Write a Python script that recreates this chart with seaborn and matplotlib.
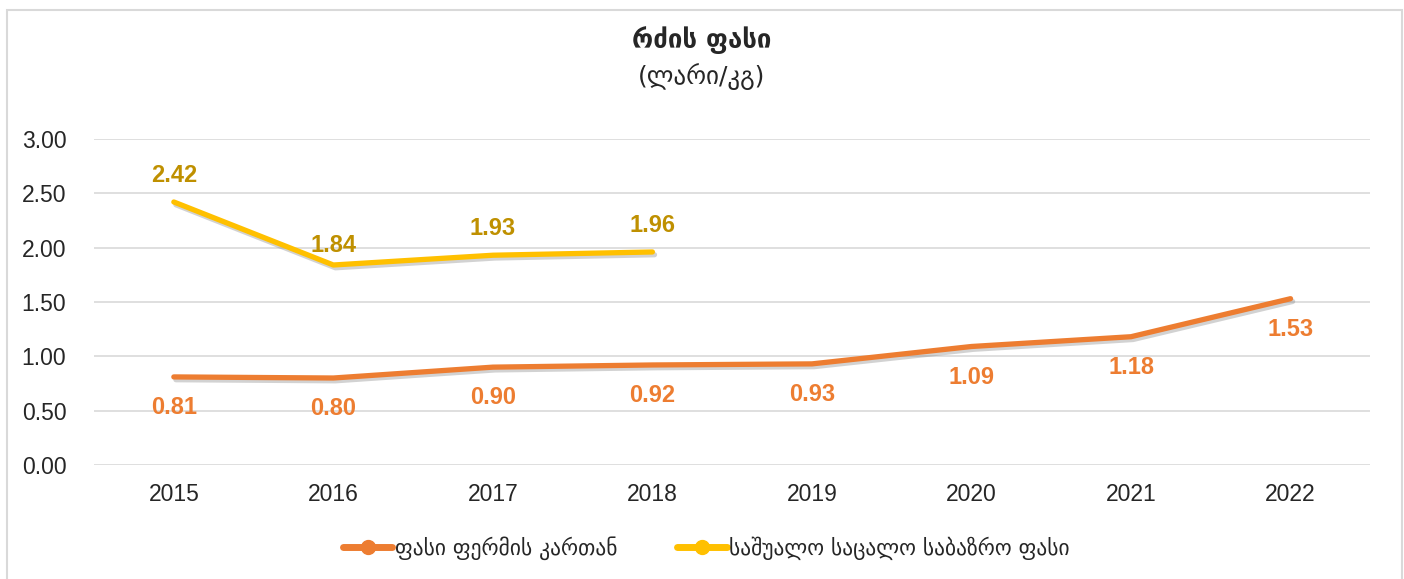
import numpy as np
import pandas as pd
import seaborn as sns
import matplotlib.pyplot as plt
import matplotlib.patheffects as pe
from matplotlib.patches import Rectangle
from matplotlib.lines import Line2D

# --- data ---
years = ['2015', '2016', '2017', '2018', '2019', '2020', '2021', '2022']
farm_price = [0.81, 0.80, 0.90, 0.92, 0.93, 1.09, 1.18, 1.53]
retail_years = ['2015', '2016', '2017', '2018']
retail_price = [2.42, 1.84, 1.93, 1.96]

farm_name = 'ფასი ფერმის კართან'
retail_name = 'საშუალო საცალო საბაზრო ფასი'
title = 'რძის ფასი'
subtitle = '(ლარი/კგ)'

orange = '#ED7D31'
yellow = '#FFC000'
yellow_lbl = '#BF9000'

df = pd.concat([
    pd.DataFrame({'year': years, 'price': farm_price, 'series': farm_name}),
    pd.DataFrame({'year': retail_years, 'price': retail_price, 'series': retail_name}),
])
df['x'] = df['year'].map({y: i for i, y in enumerate(years)})

sns.set_theme(style='white')
plt.rcParams['font.family'] = ['Liberation Sans', 'DejaVu Sans']

fig = plt.figure(figsize=(14.04, 5.79), dpi=100)
ax = fig.add_axes([0.067, 0.197, 0.909, 0.563])

shadow = [pe.SimpleLineShadow(offset=(1.5, -2), shadow_color='gray', alpha=0.35), pe.Normal()]
sns.lineplot(data=df, x='x', y='price', hue='series', palette={farm_name: orange, retail_name: yellow},
             linewidth=3.8, ax=ax, legend=False, path_effects=shadow, solid_capstyle='round')

# data labels
for i, v in enumerate(farm_price):
    ax.annotate(f'{v:.2f}', (i, v), xytext=(0, -22), textcoords='offset points',
                ha='center', va='center', color=orange, fontsize=17, fontweight='bold')
for i, v in enumerate(retail_price):
    off = 14 if i == 1 else 19
    ax.annotate(f'{v:.2f}', (i, v), xytext=(0, off), textcoords='offset points',
                ha='center', va='center', color=yellow_lbl, fontsize=17, fontweight='bold')

ticks = np.arange(0, 3.01, 0.5)
ax.set_xlim(-0.5, len(years) - 0.5)
ax.set_ylim(0, 3)
ax.set_yticks(ticks)
ax.set_yticklabels([f'{t:.2f}' for t in ticks], fontsize=16.5)
ax.set_xticks(range(len(years)))
ax.set_xticklabels(years, fontsize=16.5)
ax.tick_params(axis='x', pad=13, length=0)
ax.tick_params(axis='y', pad=20, length=0)
ax.grid(axis='y', color='#D9D9D9', linewidth=1.2)
ax.set_axisbelow(True)
for s in ax.spines.values():
    s.set_visible(False)
ax.set_xlabel('')
ax.set_ylabel('')

fig.text(0.5, 0.93, title, ha='center', va='center', fontsize=18.5, fontweight='bold',
         family=['DejaVu Sans'])
fig.text(0.5, 0.868, subtitle, ha='center', va='center', fontsize=18, family=['DejaVu Sans'])

# legend
handles = [Line2D([], [], color=orange, linewidth=5, marker='o', markersize=10),
           Line2D([], [], color=yellow, linewidth=5, marker='o', markersize=10)]
fig.legend(handles, [farm_name, retail_name], loc='center', bbox_to_anchor=(0.503, 0.053),
           ncol=2, frameon=False, handlelength=2.3, handletextpad=0.1,
           columnspacing=2.8, prop={'family': ['DejaVu Sans'], 'size': 15.5})

# chart border
fig.patches.append(Rectangle((7 / 1404, -0.05), 1395 / 1404, 1 - 10 / 579 + 0.05,
                             transform=fig.transFigure, fill=False, edgecolor='#D9D9D9',
                             linewidth=1.5))

fig.savefig('out.png', dpi=100)
